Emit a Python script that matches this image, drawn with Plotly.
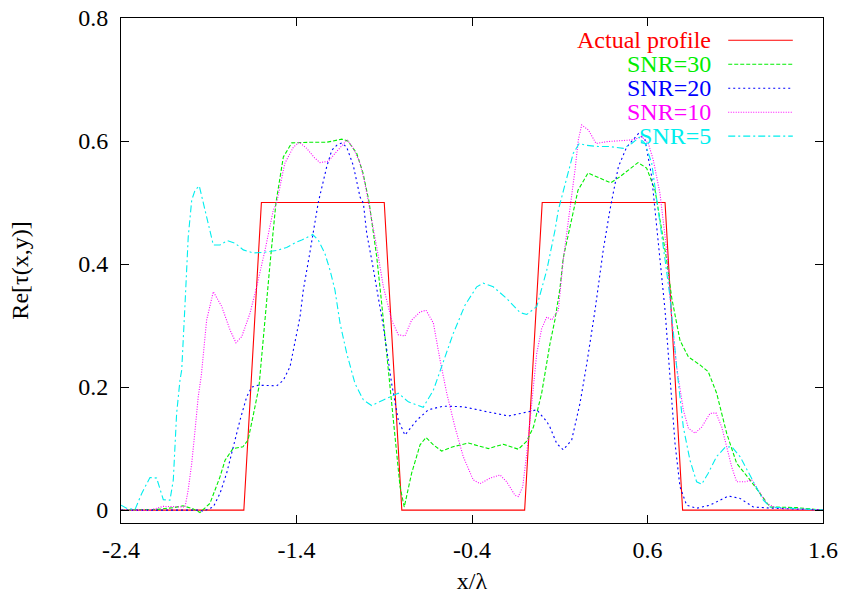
import plotly.graph_objects as go

# ---------------- data ----------------
actual_x = [-2.4, -1.7, -1.6, -0.9, -0.8, -0.1, 0.0, 0.7, 0.8, 1.6]
actual_y = [0.0, 0.0, 0.5, 0.5, 0.0, 0.0, 0.5, 0.5, 0.0, 0.0]

snr30_x = [-2.400, -2.200, -2.100, -2.047, -1.990, -1.950, -1.893, -1.836, -1.807, -1.762,
           -1.705, -1.676, -1.648, -1.614, -1.551, -1.517, -1.475, -1.427, -1.323, -1.228,
           -1.142, -1.107, -1.057, -1.021, -0.987, -0.943, -0.915, -0.886, -0.858, -0.829,
           -0.810, -0.786, -0.744, -0.696, -0.662, -0.620, -0.573, -0.508, -0.421, -0.307,
           -0.222, -0.136, -0.088, -0.050, -0.003, 0.044, 0.073, 0.101, 0.120, 0.158,
           0.204, 0.261, 0.329, 0.390, 0.443, 0.546, 0.595, 0.643, 0.671, 0.709,
           0.738, 0.785, 0.833, 0.899, 0.946, 0.994, 1.051, 1.108, 1.184, 1.241,
           1.298, 1.450, 1.600]
snr30_y = [0.000, 0.001, 0.004, 0.007, 0.002, -0.004, 0.011, 0.054, 0.081, 0.100,
           0.103, 0.114, 0.152, 0.200, 0.400, 0.500, 0.574, 0.597, 0.598, 0.598,
           0.603, 0.600, 0.580, 0.548, 0.502, 0.412, 0.337, 0.255, 0.174, 0.093,
           0.038, 0.005, 0.060, 0.106, 0.118, 0.106, 0.096, 0.103, 0.109, 0.100,
           0.107, 0.099, 0.112, 0.135, 0.190, 0.270, 0.310, 0.360, 0.410, 0.460,
           0.520, 0.548, 0.540, 0.532, 0.542, 0.565, 0.556, 0.520, 0.472, 0.407,
           0.345, 0.276, 0.249, 0.236, 0.225, 0.190, 0.125, 0.076, 0.049, 0.027,
           0.005, 0.004, 0.000]

snr20_x = [-2.400, -1.950, -1.933, -1.874, -1.836, -1.798, -1.760, -1.722, -1.684, -1.655,
           -1.618, -1.513, -1.475, -1.437, -1.380, -1.361, -1.323, -1.276, -1.228, -1.199,
           -1.171, -1.142, -1.114, -1.076, -1.038, -1.019, -1.000, -0.967, -0.905, -0.858,
           -0.820, -0.782, -0.715, -0.649, -0.564, -0.450, -0.316, -0.193, -0.108, -0.031,
           0.026, 0.044, 0.083, 0.120, 0.168, 0.215, 0.254, 0.301, 0.348, 0.386,
           0.434, 0.481, 0.548, 0.586, 0.624, 0.662, 0.700, 0.728, 0.757, 0.785,
           0.823, 0.880, 0.956, 1.061, 1.127, 1.203, 1.317, 1.600]
snr20_y = [0.000, 0.000, -0.002, 0.005, 0.027, 0.060, 0.103, 0.146, 0.184, 0.200,
           0.203, 0.202, 0.211, 0.233, 0.314, 0.358, 0.420, 0.500, 0.558, 0.585,
           0.593, 0.597, 0.590, 0.560, 0.509, 0.499, 0.450, 0.400, 0.298, 0.206,
           0.146, 0.122, 0.146, 0.163, 0.169, 0.168, 0.160, 0.153, 0.158, 0.163,
           0.144, 0.135, 0.108, 0.098, 0.114, 0.173, 0.238, 0.325, 0.423, 0.488,
           0.558, 0.590, 0.612, 0.602, 0.542, 0.434, 0.325, 0.217, 0.108, 0.038,
           0.008, 0.003, 0.008, 0.023, 0.019, 0.005, 0.003, 0.000]

snr10_x = [-2.400, -2.235, -2.159, -2.083, -2.035, -2.017, -1.997, -1.978, -1.960, -1.942,
           -1.912, -1.874, -1.826, -1.779, -1.745, -1.712, -1.665, -1.627, -1.579, -1.532,
           -1.513, -1.475, -1.466, -1.418, -1.384, -1.342, -1.295, -1.266, -1.219, -1.171,
           -1.111, -1.076, -1.038, -1.010, -0.981, -0.943, -0.905, -0.858, -0.820, -0.782,
           -0.744, -0.696, -0.662, -0.620, -0.582, -0.544, -0.497, -0.450, -0.393, -0.354,
           -0.297, -0.240, -0.202, -0.155, -0.136, -0.111, -0.088, -0.060, -0.031, -0.003,
           0.026, 0.054, 0.092, 0.120, 0.158, 0.187, 0.206, 0.225, 0.263, 0.307,
           0.368, 0.443, 0.519, 0.567, 0.605, 0.633, 0.671, 0.709, 0.738, 0.766,
           0.804, 0.833, 0.871, 0.909, 0.956, 0.990, 1.023, 1.051, 1.080, 1.108,
           1.156, 1.194, 1.231, 1.279, 1.336, 1.600]
snr10_y = [0.000, 0.000, 0.006, 0.006, 0.005, 0.033, 0.076, 0.130, 0.184, 0.220,
           0.309, 0.355, 0.331, 0.293, 0.272, 0.282, 0.320, 0.363, 0.423, 0.488,
           0.499, 0.553, 0.564, 0.590, 0.598, 0.588, 0.572, 0.565, 0.567, 0.583,
           0.602, 0.588, 0.564, 0.531, 0.488, 0.428, 0.363, 0.309, 0.285, 0.283,
           0.309, 0.322, 0.325, 0.304, 0.244, 0.190, 0.135, 0.087, 0.049, 0.043,
           0.052, 0.057, 0.046, 0.024, 0.022, 0.038, 0.092, 0.173, 0.255, 0.295,
           0.314, 0.309, 0.325, 0.407, 0.488, 0.553, 0.602, 0.626, 0.618, 0.596,
           0.599, 0.600, 0.602, 0.607, 0.596, 0.569, 0.515, 0.423, 0.310, 0.233,
           0.163, 0.133, 0.125, 0.135, 0.157, 0.158, 0.135, 0.103, 0.070, 0.046,
           0.046, 0.049, 0.033, 0.011, 0.003, 0.000]

snr5_x = [-2.400, -2.368, -2.320, -2.282, -2.235, -2.197, -2.159, -2.121, -2.102, -2.092,
          -2.083, -2.064, -2.054, -2.035, -2.017, -1.997, -1.978, -1.954, -1.931, -1.903,
          -1.874, -1.836, -1.794, -1.750, -1.703, -1.646, -1.589, -1.513, -1.456, -1.399,
          -1.370, -1.308, -1.276, -1.238, -1.209, -1.181, -1.152, -1.114, -1.067, -1.019,
          -0.972, -0.905, -0.820, -0.763, -0.678, -0.620, -0.564, -0.507, -0.440, -0.373,
          -0.336, -0.279, -0.202, -0.126, -0.088, -0.031, 0.026, 0.073, 0.092, 0.140,
          0.177, 0.211, 0.254, 0.320, 0.386, 0.462, 0.510, 0.553, 0.586, 0.624,
          0.662, 0.700, 0.728, 0.738, 0.766, 0.804, 0.842, 0.880, 0.909, 0.946,
          0.994, 1.042, 1.080, 1.127, 1.174, 1.222, 1.260, 1.298, 1.450, 1.600]
snr5_y = [0.008, 0.003, 0.001, 0.027, 0.053, 0.052, 0.017, 0.016, 0.049, 0.103,
          0.157, 0.211, 0.228, 0.336, 0.444, 0.504, 0.520, 0.527, 0.499, 0.461,
          0.431, 0.431, 0.438, 0.434, 0.423, 0.418, 0.419, 0.422, 0.427, 0.436,
          0.439, 0.448, 0.439, 0.417, 0.390, 0.358, 0.304, 0.255, 0.206, 0.179,
          0.170, 0.179, 0.190, 0.176, 0.167, 0.195, 0.239, 0.287, 0.333, 0.363,
          0.369, 0.363, 0.344, 0.321, 0.318, 0.331, 0.390, 0.455, 0.488, 0.542,
          0.580, 0.596, 0.593, 0.591, 0.591, 0.588, 0.596, 0.606, 0.596, 0.564,
          0.488, 0.407, 0.347, 0.314, 0.233, 0.135, 0.081, 0.046, 0.042, 0.060,
          0.087, 0.102, 0.103, 0.087, 0.062, 0.035, 0.016, 0.005, 0.002, 0.000]

x_ticks = [-2.4, -1.4, -0.4, 0.6, 1.6]
x_tick_labels = ["-2.4", "-1.4", "-0.4", "0.6", "1.6"]
y_ticks = [0, 0.2, 0.4, 0.6, 0.8]
y_tick_labels = ["0", "0.2", "0.4", "0.6", "0.8"]

series_names = ["Actual profile", "SNR=30", "SNR=20", "SNR=10", "SNR=5"]
series_colors = ["#ff0000", "#00ee00", "#0000ff", "#ff00ff", "#00eeee"]
series_dash = ["solid", "4px,2px", "2px,3px", "1px,1.5px", "7px,3px,2px,3px"]

# ---------------- figure ----------------
FONT = "Liberation Serif, Times New Roman, serif"
FS = 24
data_xy = [(actual_x, actual_y), (snr30_x, snr30_y), (snr20_x, snr20_y),
           (snr10_x, snr10_y), (snr5_x, snr5_y)]

fig = go.Figure()
for (xs, ys), name, col, dash in zip(data_xy, series_names, series_colors, series_dash):
    fig.add_trace(go.Scatter(x=xs, y=ys, mode="lines", name=name,
                             line=dict(color=col, width=1.1, dash=dash),
                             showlegend=False))

# gnuplot-style legend: right-aligned text followed by a line sample
leg_text_x = 0.843
leg_line_x0, leg_line_x1 = 0.865, 0.957
leg_y0, leg_dy = 0.956, 0.0475
for i, (name, col, dash) in enumerate(zip(series_names, series_colors, series_dash)):
    yy = leg_y0 - i * leg_dy
    fig.add_annotation(xref="paper", yref="paper", x=leg_text_x, y=yy, text=name,
                       showarrow=False, xanchor="right", yanchor="middle",
                       font=dict(family=FONT, size=FS, color=col))
    fig.add_shape(type="line", xref="paper", yref="paper",
                  x0=leg_line_x0, x1=leg_line_x1, y0=yy, y1=yy,
                  line=dict(color=col, width=1.1, dash=dash))

axis_common = dict(showgrid=False, zeroline=False, showline=True, linecolor="black",
                   linewidth=1, mirror="allticks", ticks="inside", ticklen=8,
                   tickwidth=1, tickcolor="black", automargin=False,
                   tickfont=dict(family=FONT, size=FS, color="black"))

fig.update_xaxes(range=[-2.4, 1.6], tickvals=x_ticks, ticktext=x_tick_labels,
                 ticklabelstandoff=5,
                 title=dict(text="x/λ", font=dict(family=FONT, size=FS, color="black"),
                            standoff=10),
                 **axis_common)
fig.update_yaxes(range=[-0.021, 0.8], tickvals=y_ticks, ticktext=y_tick_labels,
                 ticklabelstandoff=7,
                 title=dict(text="Re[τ(x,y)]", font=dict(family=FONT, size=FS, color="black"),
                            standoff=42),
                 **axis_common)

fig.update_layout(width=842, height=598, plot_bgcolor="white", paper_bgcolor="white",
                  margin=dict(l=121, r=19, t=18, b=75, pad=0),
                  font=dict(family=FONT, size=FS, color="black"))

fig.write_html("out.html")
